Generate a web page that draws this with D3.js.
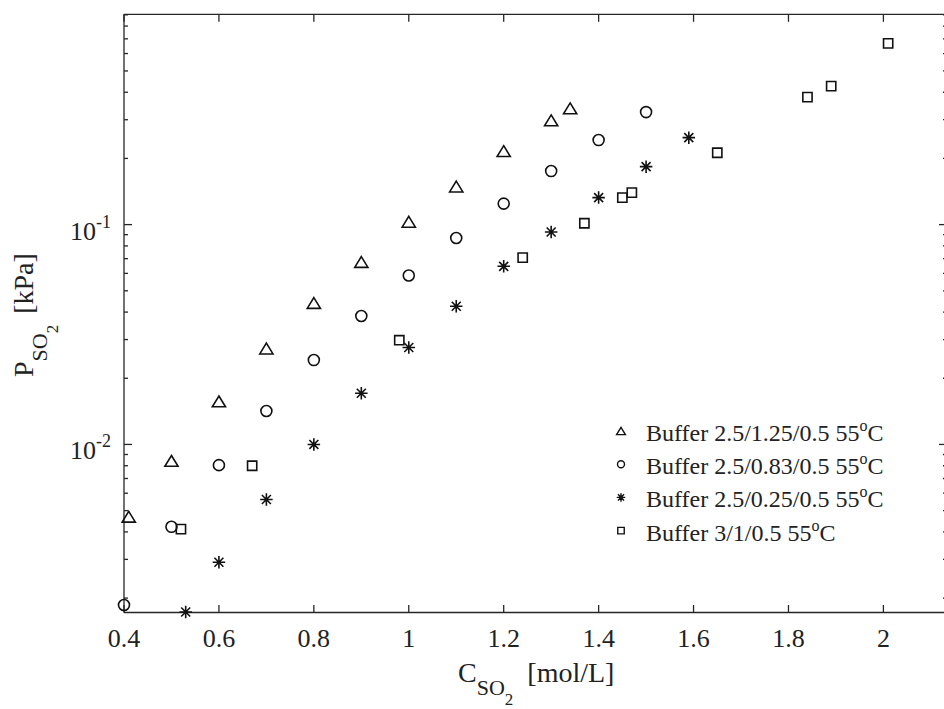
<!DOCTYPE html>
<html lang="en">

<head>
    <meta charset="utf-8">
    <script src='https://d3js.org/d3.v7.min.js'></script>
</head>

<body style="margin:0; background:#fff;">

    <style>
        svg text {
            font-family: "Liberation Serif", "Times New Roman", serif;
            fill: #222;
        }
        .axisline {
            stroke: #262626;
            stroke-width: 1.3;
            fill: none;
        }
        .mark {
            fill: none;
            stroke: #111;
            stroke-width: 1.6;
        }
    </style>

    <script>
        // data
        let triX = [0.41, 0.5, 0.6, 0.7, 0.8, 0.9, 1.0, 1.1, 1.2, 1.3, 1.34];
        let triY = [0.00469, 0.00842, 0.0157, 0.0273, 0.0440, 0.0676, 0.103, 0.149, 0.216, 0.298, 0.338];

        let circX = [0.4, 0.5, 0.6, 0.7, 0.8, 0.9, 1.0, 1.1, 1.2, 1.3, 1.4, 1.5];
        let circY = [0.00186, 0.00422, 0.00805, 0.0142, 0.0242, 0.0384, 0.0587, 0.0869, 0.1246, 0.1752, 0.2424, 0.325];

        let starX = [0.53, 0.6, 0.7, 0.8, 0.9, 1.0, 1.1, 1.2, 1.3, 1.4, 1.5, 1.59];
        let starY = [0.00173, 0.00291, 0.00562, 0.0100, 0.0171, 0.0276, 0.0425, 0.0646, 0.0926, 0.1327, 0.1835, 0.2486];

        let sqX = [0.52, 0.67, 0.98, 1.24, 1.37, 1.45, 1.47, 1.65, 1.84, 1.89, 2.01];
        let sqY = [0.00412, 0.0080, 0.0298, 0.0708, 0.1014, 0.1327, 0.1398, 0.2123, 0.380, 0.4266, 0.667];

        let seriesNames = ["Buffer 2.5/1.25/0.5 55", "Buffer 2.5/0.83/0.5 55", "Buffer 2.5/0.25/0.5 55", "Buffer 3/1/0.5 55"];
        let xTicks = [0.4, 0.6, 0.8, 1, 1.2, 1.4, 1.6, 1.8, 2];
        let yMajor = [0.01, 0.1];
        let yLabels = ["-2", "-1"];

        var width = 944, height = 709;
        // plot box edges (don't call these top/left, window.top is read-only)
        // right edge sits just past the window, like in the original
        var pLeft = 124, pRight = 947, pTop = 14.3, pBottom = 612.5;

        var x = d3.scaleLinear().domain([0.4, 2.134]).range([pLeft, pRight]);
        var y = d3.scaleLog().domain([0.00172, 0.905]).range([pBottom, pTop]);

        var svg = d3.select("body").append("svg")
            .attr("width", width)
            .attr("height", height);

        // marker shapes (custom symbol types, centred on bbox)
        var tri = {
            draw: function(ctx, size) {
                var w = Math.sqrt(size);
                ctx.moveTo(0, -w * 0.45);
                ctx.lineTo(w * 0.55, w * 0.45);
                ctx.lineTo(-w * 0.55, w * 0.45);
                ctx.closePath();
            }
        };
        var star = {
            draw: function(ctx, size) {
                var r = Math.sqrt(size) / 2;
                var d = r * 0.72;
                ctx.moveTo(-r, 0); ctx.lineTo(r, 0);
                ctx.moveTo(0, -r); ctx.lineTo(0, r);
                ctx.moveTo(-d, -d); ctx.lineTo(d, d);
                ctx.moveTo(-d, d); ctx.lineTo(d, -d);
            }
        };
        var sq = {
            draw: function(ctx, size) {
                var h = Math.sqrt(size) / 2;
                ctx.rect(-h, -h, 2 * h, 2 * h);
            }
        };
        var circ = {
            draw: function(ctx, size) {
                var r = Math.sqrt(size) / 2;
                ctx.moveTo(r, 0);
                ctx.arc(0, 0, r, 0, 2 * Math.PI);
            }
        };

        var series = [
            { xs: triX, ys: triY, type: tri, size: 144, legSize: 64 },
            { xs: circX, ys: circY, type: circ, size: 121, legSize: 49 },
            { xs: starX, ys: starY, type: star, size: 156, legSize: 72 },
            { xs: sqX, ys: sqY, type: sq, size: 85, legSize: 42 }
        ];

        // axes box
        svg.append("line").attr("class", "axisline")
            .attr("x1", pLeft).attr("x2", pLeft).attr("y1", pTop).attr("y2", pBottom);
        svg.append("line").attr("class", "axisline")
            .attr("x1", pLeft).attr("x2", pRight).attr("y1", pBottom).attr("y2", pBottom);
        svg.append("line").attr("class", "axisline")
            .attr("x1", pLeft).attr("x2", pRight).attr("y1", pTop).attr("y2", pTop);
        svg.append("line").attr("class", "axisline")
            .attr("x1", pRight).attr("x2", pRight).attr("y1", pTop).attr("y2", pBottom);

        // x ticks (inward, bottom and top)
        xTicks.forEach(function(t) {
            svg.append("line").attr("class", "axisline")
                .attr("x1", x(t)).attr("x2", x(t)).attr("y1", pBottom).attr("y2", pBottom - 7.5);
            svg.append("line").attr("class", "axisline")
                .attr("x1", x(t)).attr("x2", x(t)).attr("y1", pTop).attr("y2", pTop + 7.5);
            svg.append("text")
                .attr("x", x(t))
                .attr("y", 647)
                .attr("text-anchor", "middle")
                .style("font-size", "26px")
                .text(t);
        });

        // y ticks, major and minor
        var yt = y.ticks().filter(function(v) {
            return v >= y.domain()[0] && v <= y.domain()[1];
        });
        yt.forEach(function(v) {
            var isMajor = yMajor.some(function(m) { return Math.abs(m - v) < 1e-9; });
            var len = isMajor ? 8 : 4;
            svg.append("line").attr("class", "axisline")
                .attr("x1", pLeft).attr("x2", pLeft + len).attr("y1", y(v)).attr("y2", y(v));
            svg.append("line").attr("class", "axisline")
                .attr("x1", pRight).attr("x2", pRight - len).attr("y1", y(v)).attr("y2", y(v));
        });

        yMajor.forEach(function(v, i) {
            var t = svg.append("text")
                .attr("x", 111)
                .attr("y", y(v) + 15)
                .attr("text-anchor", "end")
                .style("font-size", "26px");
            t.append("tspan").text("10");
            t.append("tspan")
                .attr("dy", -12)
                .style("font-size", "18px")
                .text(yLabels[i]);
        });

        // axis labels
        var xl = svg.append("text")
            .attr("x", 458)
            .attr("y", 682)
            .style("font-size", "28px");
        xl.append("tspan").text("C");
        xl.append("tspan").attr("dy", 13).style("font-size", "22px").text("SO");
        xl.append("tspan").attr("dy", 10).style("font-size", "17px").text("2");
        xl.append("tspan").attr("dy", -23).attr("dx", 7).text(" [mol/L]");

        var yl = svg.append("text")
            .attr("transform", "translate(33,377) rotate(-90)")
            .style("font-size", "28px");
        yl.append("tspan").text("P");
        yl.append("tspan").attr("dy", 14).style("font-size", "22px").text("SO");
        yl.append("tspan").attr("dy", 11).style("font-size", "17px").text("2");
        yl.append("tspan").attr("dy", -25).attr("dx", 4).text(" [kPa]");

        // data markers
        series.forEach(function(s) {
            var pts = s.xs.map(function(v, i) { return [v, s.ys[i]]; });
            svg.append("g")
                .selectAll("path")
                .data(pts)
                .enter()
                .append("path")
                .attr("class", "mark")
                .attr("transform", function(d) {
                    return "translate(" + x(d[0]) + "," + y(d[1]) + ")";
                })
                .attr("d", d3.symbol().type(s.type).size(s.size));
        });

        // legend
        var leg = svg.append("g").attr("transform", "translate(621,431)");
        var row = leg.selectAll("g")
            .data(series)
            .enter()
            .append("g")
            .attr("transform", function(d, i) {
                return "translate(0," + i * 33.2 + ")";
            });

        row.append("path")
            .attr("class", "mark")
            .style("stroke-width", 1.4)
            .attr("d", function(d) {
                return d3.symbol().type(d.type).size(d.legSize)();
            });

        var lt = row.append("text")
            .attr("x", 25)
            .attr("y", 10)
            .style("font-size", "24px");
        lt.append("tspan").text(function(d, i) { return seriesNames[i]; });
        lt.append("tspan").attr("dy", -10).style("font-size", "16px").text("o");
        lt.append("tspan").attr("dy", 10).text("C");
    </script>
</body>

</html>
